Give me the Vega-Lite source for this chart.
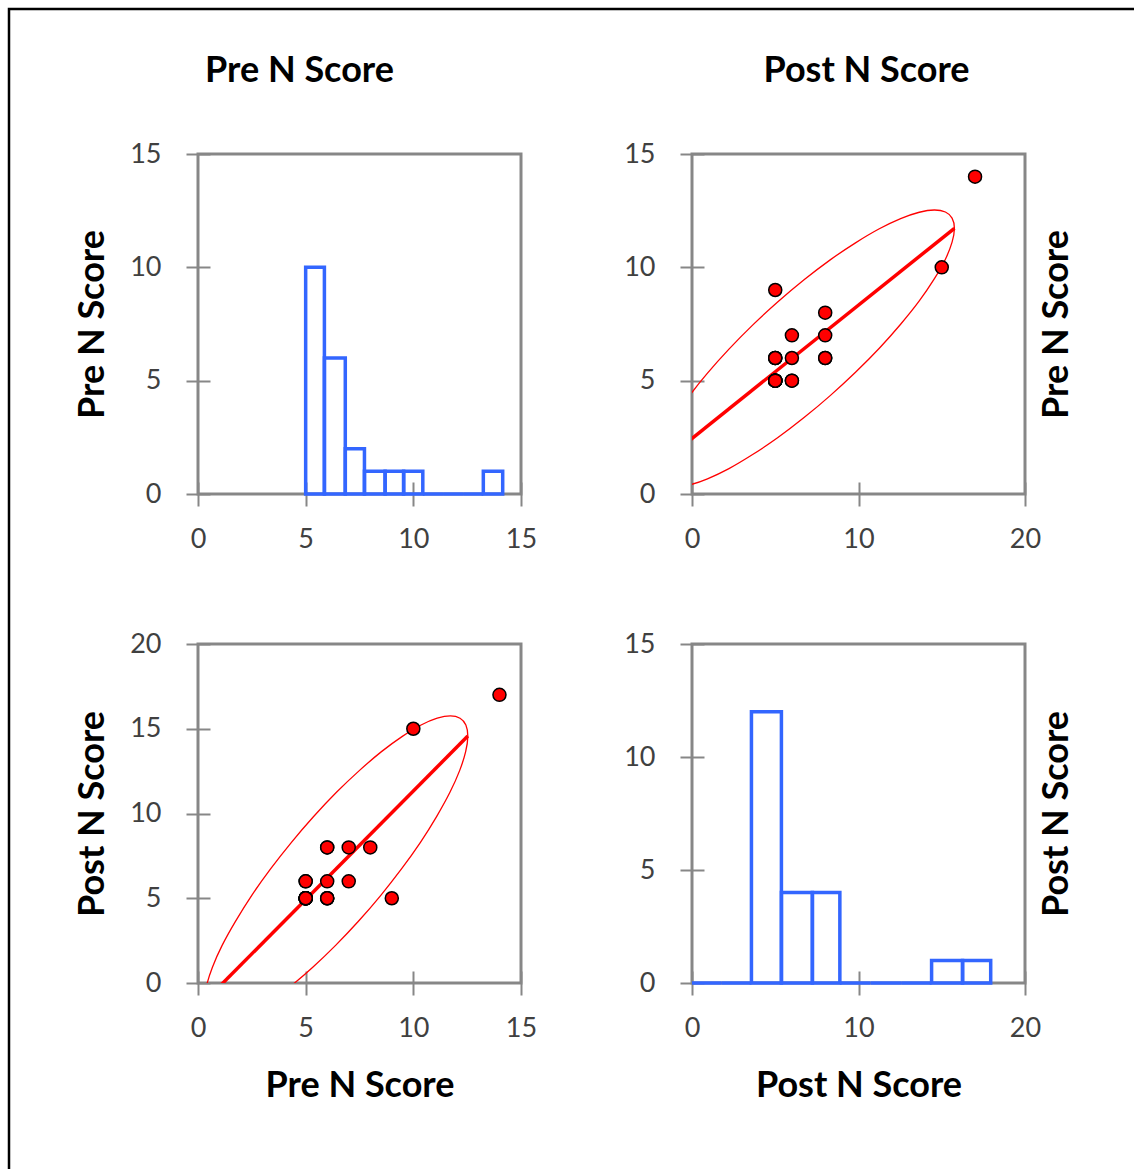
{
  "$schema": "https://vega.github.io/schema/vega-lite/v6.json",
  "padding": {"left": 6, "top": 6, "right": 0, "bottom": 0},
  "background": "white",
  "datasets": {
    "obs": [
      {"pre": 5, "post": 5}, {"pre": 5, "post": 5}, {"pre": 5, "post": 5}, {"pre": 5, "post": 5},
      {"pre": 5, "post": 5}, {"pre": 5, "post": 5}, {"pre": 5, "post": 5}, {"pre": 5, "post": 5},
      {"pre": 5, "post": 6}, {"pre": 5, "post": 6},
      {"pre": 6, "post": 5}, {"pre": 6, "post": 5}, {"pre": 6, "post": 5},
      {"pre": 6, "post": 6}, {"pre": 6, "post": 8}, {"pre": 6, "post": 8},
      {"pre": 7, "post": 6}, {"pre": 7, "post": 8},
      {"pre": 8, "post": 8}, {"pre": 9, "post": 5}, {"pre": 10, "post": 15}, {"pre": 14, "post": 17}
    ],
    "preHist": [
      {"start": 5.0, "end": 5.87, "count": 10},
      {"start": 5.87, "end": 6.84, "count": 6},
      {"start": 6.84, "end": 7.73, "count": 2},
      {"start": 7.73, "end": 8.69, "count": 1},
      {"start": 8.69, "end": 9.55, "count": 1},
      {"start": 9.55, "end": 10.44, "count": 1},
      {"start": 10.44, "end": 11.38, "count": 0},
      {"start": 11.38, "end": 12.31, "count": 0},
      {"start": 12.31, "end": 13.25, "count": 0},
      {"start": 13.25, "end": 14.15, "count": 1}
    ],
    "postHist": [
      {"start": 0.0, "end": 1.79, "count": 0},
      {"start": 1.79, "end": 3.57, "count": 0},
      {"start": 3.57, "end": 5.37, "count": 12},
      {"start": 5.37, "end": 7.23, "count": 4},
      {"start": 7.23, "end": 8.88, "count": 4},
      {"start": 8.88, "end": 10.72, "count": 0},
      {"start": 10.72, "end": 12.56, "count": 0},
      {"start": 12.56, "end": 14.39, "count": 0},
      {"start": 14.39, "end": 16.25, "count": 1},
      {"start": 16.25, "end": 17.94, "count": 1}
    ],
    "ellipse": [
      {"i": 0, "post": 15.76, "pre": 11.72}, {"i": 1, "post": 15.62, "pre": 12.17},
      {"i": 2, "post": 15.22, "pre": 12.44}, {"i": 3, "post": 14.55, "pre": 12.53},
      {"i": 4, "post": 13.65, "pre": 12.43}, {"i": 5, "post": 12.53, "pre": 12.15},
      {"i": 6, "post": 11.25, "pre": 11.70}, {"i": 7, "post": 9.82, "pre": 11.08},
      {"i": 8, "post": 8.30, "pre": 10.33}, {"i": 9, "post": 6.73, "pre": 9.45},
      {"i": 10, "post": 5.16, "pre": 8.48}, {"i": 11, "post": 3.64, "pre": 7.45},
      {"i": 12, "post": 2.22, "pre": 6.39}, {"i": 13, "post": 0.93, "pre": 5.33},
      {"i": 14, "post": -0.19, "pre": 4.30}, {"i": 15, "post": -1.09, "pre": 3.33},
      {"i": 16, "post": -1.76, "pre": 2.46}, {"i": 17, "post": -2.16, "pre": 1.71},
      {"i": 18, "post": -2.30, "pre": 1.10}, {"i": 19, "post": -2.16, "pre": 0.65},
      {"i": 20, "post": -1.76, "pre": 0.38}, {"i": 21, "post": -1.09, "pre": 0.29},
      {"i": 22, "post": -0.19, "pre": 0.39}, {"i": 23, "post": 0.93, "pre": 0.67},
      {"i": 24, "post": 2.22, "pre": 1.12}, {"i": 25, "post": 3.64, "pre": 1.74},
      {"i": 26, "post": 5.16, "pre": 2.49}, {"i": 27, "post": 6.73, "pre": 3.37},
      {"i": 28, "post": 8.30, "pre": 4.34}, {"i": 29, "post": 9.82, "pre": 5.37},
      {"i": 30, "post": 11.25, "pre": 6.43}, {"i": 31, "post": 12.53, "pre": 7.49},
      {"i": 32, "post": 13.65, "pre": 8.52}, {"i": 33, "post": 14.55, "pre": 9.49},
      {"i": 34, "post": 15.22, "pre": 10.36}, {"i": 35, "post": 15.62, "pre": 11.11}
    ],
    "fits": [
      {"fit": "preOnPost", "post": -2.30, "pre": 1.10},
      {"fit": "preOnPost", "post": 15.76, "pre": 11.72},
      {"fit": "postOnPre", "pre": 0.29, "post": -1.11},
      {"fit": "postOnPre", "pre": 12.53, "post": 14.57}
    ]
  },
  "columns": 2,
  "spacing": {"row": 150, "column": 171},
  "bounds": "flush",
  "resolve": {"legend": {"shape": "independent"}},
  "concat": [
    {
      "width": 323,
      "height": 340,
      "title": {"text": "Pre N Score", "frame": "group", "anchor": "middle", "dx": -60, "offset": 22, "baseline": "alphabetic"},
      "layer": [
        {
          "data": {"name": "preHist"},
          "mark": {"type": "rect", "filled": false, "color": "#3366ff", "strokeWidth": 3.5, "opacity": 1},
          "encoding": {
            "x": {"field": "start", "type": "quantitative", "scale": {"domain": [0, 15], "nice": false, "zero": false},
                  "axis": {"values": [0, 5, 10, 15], "title": null}},
            "x2": {"field": "end"},
            "y": {"field": "count", "type": "quantitative", "scale": {"domain": [0, 15], "nice": false},
                  "axis": {"values": [0, 5, 10, 15], "title": "Pre N Score", "titlePadding": 18}},
            "y2": {"datum": 0}
          }
        },
        {
          "data": {"name": "preHist"},
          "mark": {"type": "point", "opacity": 0},
          "encoding": {
            "x": {"field": "start", "type": "quantitative", "scale": {"domain": [0, 15], "nice": false, "zero": false},
                  "axis": {"orient": "bottom", "values": [0, 5, 10, 15], "tickSize": -12, "labels": false, "title": null}},
            "y": {"field": "count", "type": "quantitative", "scale": {"domain": [0, 15], "nice": false},
                  "axis": {"orient": "left", "values": [0, 5, 10, 15], "tickSize": -12, "labels": false, "title": null}}
          }
        }
      ],
      "resolve": {"axis": {"x": "independent", "y": "independent"}}
    },
    {
      "width": 333,
      "height": 340,
      "title": {"text": "Post N Score", "frame": "group", "anchor": "middle", "dx": 8, "offset": 22, "baseline": "alphabetic"},
      "layer": [
        {
          "data": {"name": "ellipse"},
          "mark": {"type": "line", "color": "#ff0000", "strokeWidth": 1.3, "interpolate": "cardinal-closed", "clip": true},
          "encoding": {
            "x": {"field": "post", "type": "quantitative", "scale": {"domain": [0, 20], "nice": false, "zero": false},
                  "axis": {"orient": "bottom", "values": [0, 10, 20], "tickSize": -12, "labels": false, "title": null}},
            "y": {"field": "pre", "type": "quantitative", "scale": {"domain": [0, 15], "nice": false, "zero": false},
                  "axis": {"orient": "left", "values": [0, 5, 10, 15], "tickSize": -12, "labels": false, "title": null}},
            "order": {"field": "i", "type": "quantitative"}
          }
        },
        {
          "data": {"name": "fits"},
          "transform": [{"filter": {"field": "fit", "equal": "preOnPost"}}],
          "mark": {"type": "line", "color": "#ff0000", "strokeWidth": 3.5, "clip": true},
          "encoding": {
            "x": {"field": "post", "type": "quantitative", "scale": {"domain": [0, 20], "nice": false, "zero": false}, "axis": null},
            "y": {"field": "pre", "type": "quantitative", "scale": {"domain": [0, 15], "nice": false, "zero": false},
                  "axis": {"orient": "right", "title": "Pre N Score", "labels": false, "ticks": false, "domain": false,
                           "titleAngle": 270, "titleBaseline": "top", "titlePadding": 14}}
          }
        },
        {
          "data": {"name": "obs"},
          "mark": {"type": "point", "filled": true, "fill": "#ff0000", "stroke": "#000000", "strokeWidth": 1.5, "size": 170, "opacity": 1},
          "encoding": {
            "x": {"field": "post", "type": "quantitative", "scale": {"domain": [0, 20], "nice": false, "zero": false},
                  "axis": {"orient": "bottom", "values": [0, 10, 20], "title": null}},
            "y": {"field": "pre", "type": "quantitative", "scale": {"domain": [0, 15], "nice": false, "zero": false},
                  "axis": {"orient": "left", "values": [0, 5, 10, 15], "title": null}}
          }
        }
      ],
      "resolve": {"axis": {"x": "independent", "y": "independent"}}
    },
    {
      "width": 323,
      "height": 339,
      "layer": [
        {
          "data": {"name": "ellipse"},
          "mark": {"type": "line", "color": "#ff0000", "strokeWidth": 1.3, "interpolate": "cardinal-closed", "clip": true},
          "encoding": {
            "x": {"field": "pre", "type": "quantitative", "scale": {"domain": [0, 15], "nice": false, "zero": false},
                  "axis": {"orient": "bottom", "values": [0, 5, 10, 15], "tickSize": -12, "labels": false, "title": null}},
            "y": {"field": "post", "type": "quantitative", "scale": {"domain": [0, 20], "nice": false, "zero": false},
                  "axis": {"orient": "left", "values": [0, 5, 10, 15, 20], "tickSize": -12, "labels": false, "title": null}},
            "order": {"field": "i", "type": "quantitative"}
          }
        },
        {
          "data": {"name": "fits"},
          "transform": [{"filter": {"field": "fit", "equal": "postOnPre"}}],
          "mark": {"type": "line", "color": "#ff0000", "strokeWidth": 3.5, "clip": true},
          "encoding": {
            "x": {"field": "pre", "type": "quantitative", "scale": {"domain": [0, 15], "nice": false, "zero": false}, "axis": null},
            "y": {"field": "post", "type": "quantitative", "scale": {"domain": [0, 20], "nice": false, "zero": false}, "axis": null}
          }
        },
        {
          "data": {"name": "obs"},
          "mark": {"type": "point", "filled": true, "fill": "#ff0000", "stroke": "#000000", "strokeWidth": 1.5, "size": 170, "opacity": 1},
          "encoding": {
            "x": {"field": "pre", "type": "quantitative", "scale": {"domain": [0, 15], "nice": false, "zero": false},
                  "axis": {"orient": "bottom", "values": [0, 5, 10, 15], "title": "Pre N Score", "titlePadding": 27}},
            "y": {"field": "post", "type": "quantitative", "scale": {"domain": [0, 20], "nice": false, "zero": false},
                  "axis": {"orient": "left", "values": [0, 5, 10, 15, 20], "title": "Post N Score", "titlePadding": 18}}
          }
        }
      ],
      "resolve": {"axis": {"x": "independent", "y": "independent"}}
    },
    {
      "width": 333,
      "height": 339,
      "layer": [
        {
          "data": {"name": "postHist"},
          "mark": {"type": "rect", "filled": false, "color": "#3366ff", "strokeWidth": 3.5, "opacity": 1},
          "encoding": {
            "x": {"field": "start", "type": "quantitative", "scale": {"domain": [0, 20], "nice": false, "zero": false},
                  "axis": {"values": [0, 10, 20], "title": "Post N Score", "titlePadding": 27}},
            "x2": {"field": "end"},
            "y": {"field": "count", "type": "quantitative", "scale": {"domain": [0, 15], "nice": false},
                  "axis": {"values": [0, 5, 10, 15], "title": null}},
            "y2": {"datum": 0}
          }
        },
        {
          "data": {"name": "postHist"},
          "mark": {"type": "point", "opacity": 0},
          "encoding": {
            "x": {"field": "start", "type": "quantitative", "scale": {"domain": [0, 20], "nice": false, "zero": false},
                  "axis": {"orient": "bottom", "values": [0, 10, 20], "tickSize": -12, "labels": false, "title": null}},
            "y": {"field": "count", "type": "quantitative", "scale": {"domain": [0, 15], "nice": false},
                  "axis": {"orient": "left", "values": [0, 5, 10, 15], "tickSize": -12, "labels": false, "title": null}}
          }
        },
        {
          "data": {"name": "postHist"},
          "mark": {"type": "point", "opacity": 0},
          "encoding": {
            "y": {"field": "count", "type": "quantitative", "scale": {"domain": [0, 15], "nice": false},
                  "axis": {"orient": "right", "title": "Post N Score", "labels": false, "ticks": false, "domain": false,
                           "titleAngle": 270, "titleBaseline": "top", "titlePadding": 14}}
          }
        },
        {
          "data": {"values": [{"frame": "box"}]},
          "mark": {"type": "point", "opacity": 0},
          "encoding": {
            "shape": {"field": "frame", "type": "nominal",
                      "legend": {"orient": "none", "legendX": -683, "legendY": -635, "padding": 590,
                                 "strokeColor": "#000000", "fillColor": null, "title": null,
                                 "symbolOpacity": 0, "labelOpacity": 0, "symbolSize": 10}}
          }
        }
      ],
      "resolve": {"axis": {"x": "independent", "y": "independent"}}
    }
  ],
  "config": {
    "font": "Lato",
    "view": {"stroke": "#878787", "strokeWidth": 3},
    "axis": {
      "domain": false, "grid": false,
      "tickColor": "#878787", "tickWidth": 2, "tickSize": 12,
      "labelFont": "Lato", "labelFontSize": 27, "labelColor": "#404040", "labelPadding": 25,
      "labelOverlap": false, "labelFlush": false,
      "titleFont": "Lato", "titleFontSize": 36, "titleFontWeight": "bold", "titleColor": "#000000"
    },
    "axisX": {"labelPadding": 20},
    "title": {"font": "Lato", "fontSize": 36, "fontWeight": "bold", "color": "#000000"},
    "legend": {"strokeWidth": 2.5}
  }
}
